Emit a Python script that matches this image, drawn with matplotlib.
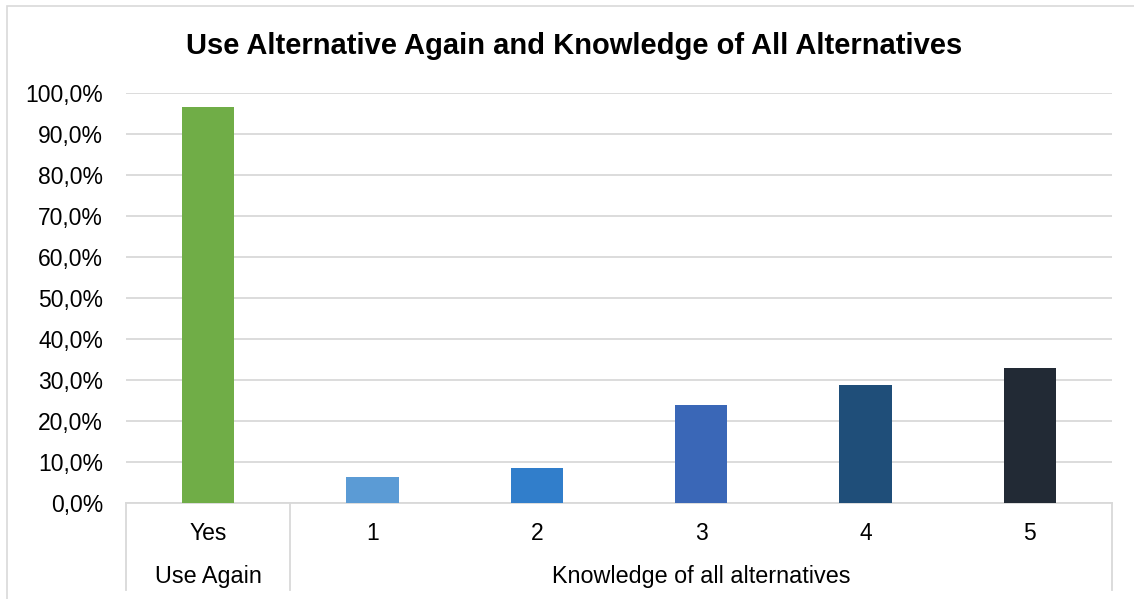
import matplotlib.pyplot as plt
from matplotlib.patches import Rectangle
from matplotlib.transforms import blended_transform_factory

plt.rcParams['font.family'] = ['Liberation Sans', 'DejaVu Sans']

# survey results (%)
categories = ['Yes', '1', '2', '3', '4', '5']
values = [96.6, 6.3, 8.5, 23.9, 28.8, 32.9]
bar_colors = ['#70AD47', '#5B9BD5', '#317ECB', '#3A67B7', '#1F4E79', '#222A35']
groups = ['Use Again', 'Knowledge of all alternatives']
group_spans = [(0, 0), (1, 5)]
yticks = [0, 10, 20, 30, 40, 50, 60, 70, 80, 90, 100]

W, H = 1134, 599
fig = plt.figure(figsize=(W / 100, H / 100), dpi=100)

# light frame around the whole chart
fig.patches.append(Rectangle((7 / W, -0.1), 1.2, (H - 6) / H + 0.1,
                             transform=fig.transFigure, fill=False,
                             edgecolor='#D9D9D9', linewidth=1.2))

ax = fig.add_axes([126 / W, (H - 503) / H, 986 / W, 410 / H])
x = range(len(categories))
ax.bar(x, values, width=0.32, color=bar_colors, zorder=3)

ax.set_xlim(-0.5, len(categories) - 0.5)
ax.set_ylim(0, 100)
ax.set_yticks(yticks)
ax.set_yticklabels([f'{v:.1f}%'.replace('.', ',') for v in yticks], fontsize=16.5)
ax.yaxis.grid(True, color='#D9D9D9', linewidth=1.3, zorder=0)
ax.tick_params(axis='y', length=0, pad=16.5)
ax.set_xticks([])
for s in ['top', 'right', 'left']:
    ax.spines[s].set_visible(False)
ax.spines['bottom'].set_color('#D9D9D9')
ax.spines['bottom'].set_linewidth(1.3)

# category labels and the two-level box below the axis
tr = blended_transform_factory(ax.transData, ax.transAxes)
for i, c in enumerate(categories):
    ax.text(i, -31 / 410, c, transform=tr, ha='center', va='center', fontsize=16.5)
for g, (a, b) in zip(groups, group_spans):
    ax.text((a + b) / 2, -74 / 410, g, transform=tr, ha='center', va='center', fontsize=16.8)
for xs in [-0.5, 0.5, len(categories) - 0.5]:
    ax.plot([xs, xs], [0, -87 / 410], transform=tr, color='#D9D9D9',
            linewidth=1.3, clip_on=False)

fig.text(574.5 / W, 1 - 46 / H,
         'Use Alternative Again and Knowledge of All Alternatives',
         ha='center', va='center', fontsize=21, fontweight='bold')

fig.savefig('out.png', dpi=100)
